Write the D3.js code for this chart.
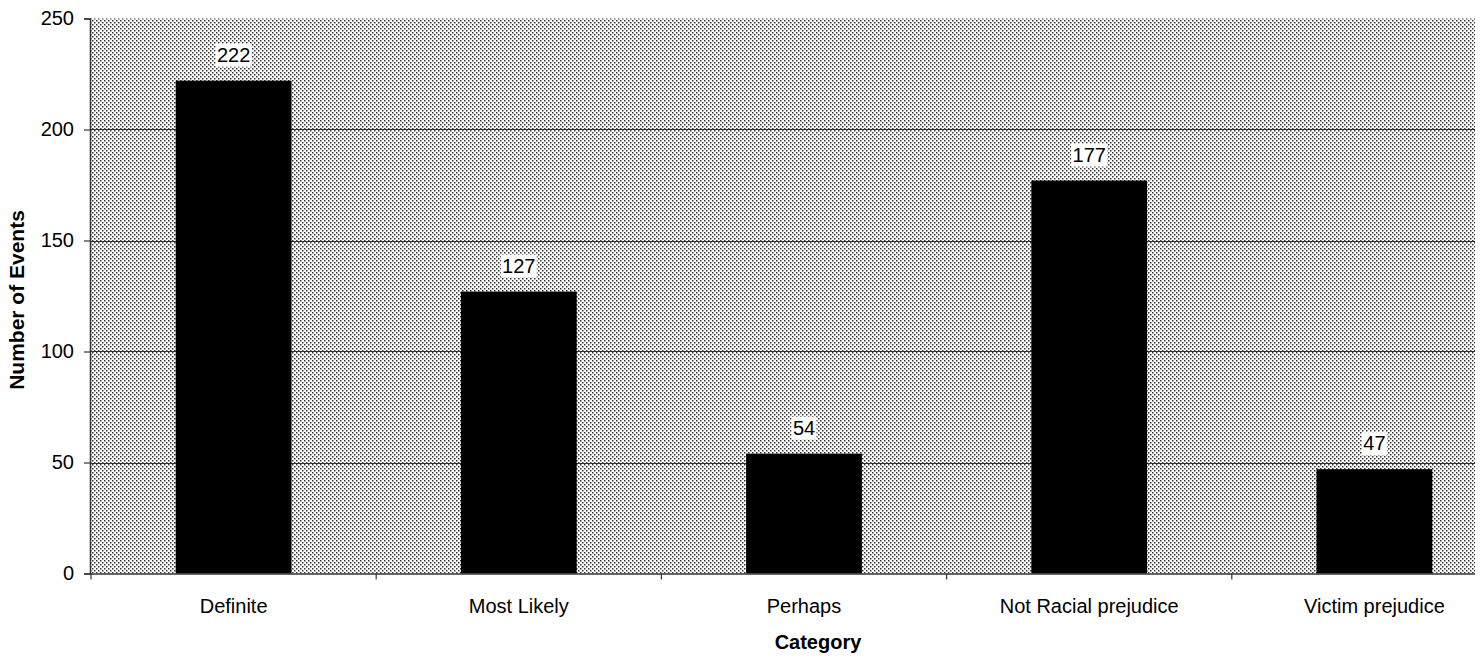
<!DOCTYPE html>
<html>
<head>
<meta charset="utf-8">
<script src="https://cdn.jsdelivr.net/npm/d3@7"></script>
<style>
  html, body { margin: 0; padding: 0; background: #fff; }
  svg { display: block; }
  text { font-family: "Liberation Sans", Arial, sans-serif; fill: #000; }
</style>
</head>
<body>
<svg id="chart" width="1481" height="661"></svg>
<script>
// Event counts by category
const categories = ["Definite", "Most Likely", "Perhaps", "Not Racial prejudice", "Victim prejudice"];
const counts = [222, 127, 54, 177, 47];
const yTicks = [0, 50, 100, 150, 200, 250];

const svg = d3.select("#chart");

// plot frame (the category band runs past the right border of the page)
const plotLeft = 90, plotRight = 1475, plotTop = 18.5, plotBottom = 573.5;

const x = d3.scaleBand()
  .domain(categories)
  .range([91, 1517])
  .paddingInner(0.594)
  .paddingOuter(0.297);

const y = d3.scaleLinear().domain([0, 250]).range([plotBottom, plotTop]);

// dotted fill for the plot background
const defs = svg.append("defs");
const pat = defs.append("pattern")
  .attr("id", "dots")
  .attr("patternUnits", "userSpaceOnUse")
  .attr("width", 4).attr("height", 4);
pat.append("rect").attr("width", 4).attr("height", 4).attr("fill", "#fff");
pat.append("rect").attr("x", 0).attr("y", 0).attr("width", 1.5).attr("height", 1.5).attr("fill", "#333");
pat.append("rect").attr("x", 2).attr("y", 2).attr("width", 1.5).attr("height", 1.5).attr("fill", "#333");

svg.append("rect")
  .attr("x", plotLeft).attr("y", plotTop)
  .attr("width", plotRight - plotLeft).attr("height", plotBottom - plotTop)
  .attr("fill", "url(#dots)");

// horizontal gridlines
svg.append("g")
  .selectAll("line")
  .data(yTicks.filter(d => d > 0 && d < 250))
  .join("line")
  .attr("x1", plotLeft).attr("x2", plotRight)
  .attr("y1", d => Math.round(y(d)) + 0.5).attr("y2", d => Math.round(y(d)) + 0.5)
  .attr("stroke", "#333").attr("stroke-width", 1);

// bars
svg.append("g")
  .selectAll("rect")
  .data(categories)
  .join("rect")
  .attr("x", d => x(d))
  .attr("y", (d, i) => y(counts[i]))
  .attr("width", x.bandwidth())
  .attr("height", (d, i) => plotBottom - y(counts[i]))
  .attr("fill", "#000");

// y axis
const yAxis = svg.append("g")
  .attr("transform", `translate(${plotLeft},0)`)
  .call(d3.axisLeft(y).tickValues(yTicks).tickSize(6).tickPadding(10));
yAxis.select(".domain").attr("stroke", "#333").attr("stroke-width", 1.5);
yAxis.selectAll(".tick line").attr("stroke", "#333").attr("stroke-width", 1.2);
yAxis.selectAll(".tick text").style("font-size", "20px").style("font-family", "Liberation Sans, Arial, sans-serif").attr("fill", "#000");

// x axis: ticks sit between categories
const step = x.step();
const boundaries = d3.range(categories.length).map(i => x(categories[i]) - x.paddingOuter() * step);
const xAxisG = svg.append("g");
xAxisG.append("line")
  .attr("x1", plotLeft).attr("x2", plotRight)
  .attr("y1", plotBottom + 0.5).attr("y2", plotBottom + 0.5)
  .attr("stroke", "#333").attr("stroke-width", 1.5);
xAxisG.selectAll("line.tk")
  .data(boundaries)
  .join("line")
  .attr("class", "tk")
  .attr("x1", d => d).attr("x2", d => d)
  .attr("y1", plotBottom).attr("y2", plotBottom + 6)
  .attr("stroke", "#333").attr("stroke-width", 1.2);
xAxisG.selectAll("text")
  .data(categories)
  .join("text")
  .attr("x", d => x(d) + x.bandwidth() / 2)
  .attr("y", 613)
  .attr("text-anchor", "middle")
  .style("font-size", "20px")
  .text(d => d);

// value labels on white boxes
const lbl = svg.append("g").selectAll("g")
  .data(categories)
  .join("g")
  .attr("transform", (d, i) => `translate(${x(d) + x.bandwidth() / 2},${y(counts[i]) - 14})`);
lbl.append("rect")
  .attr("x", (d, i) => -(String(counts[i]).length * 11 + 3) / 2)
  .attr("y", -23)
  .attr("width", (d, i) => String(counts[i]).length * 11 + 3)
  .attr("height", 23)
  .attr("fill", "#fff");
lbl.append("text")
  .attr("text-anchor", "middle")
  .attr("y", -5)
  .style("font-size", "20px")
  .text((d, i) => counts[i]);

// axis titles
svg.append("text")
  .attr("x", 818).attr("y", 649)
  .attr("text-anchor", "middle")
  .style("font-size", "20px").style("font-weight", "bold")
  .text("Category");
svg.append("text")
  .attr("transform", "translate(24,300) rotate(-90)")
  .attr("text-anchor", "middle")
  .style("font-size", "21px").style("font-weight", "bold")
  .text("Number of Events");
</script>
</body>
</html>
